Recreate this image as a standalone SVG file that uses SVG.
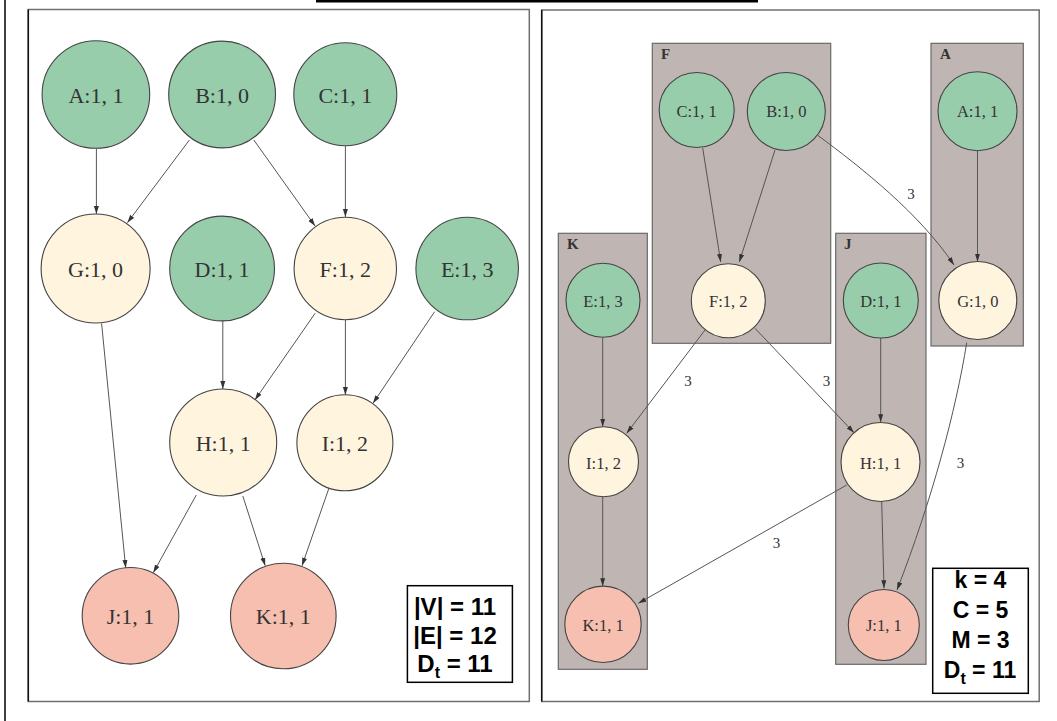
<svg xmlns="http://www.w3.org/2000/svg" width="1057" height="721" viewBox="0 0 1057 721">
<style>
.bg{fill:#ffffff}
.panel{fill:#ffffff;stroke:#707070;stroke-width:1.5}
.pedge{stroke:#111;stroke-width:1.5}
.cl{fill:#bfb5b2;stroke:#6a6a6a;stroke-width:1.2}
.cll{font-family:"Liberation Serif",serif;font-weight:bold;font-size:15px;fill:#333}
.g{fill:#98cdab;stroke:#444;stroke-width:1.1}
.y{fill:#fff5df;stroke:#444;stroke-width:1.1}
.p{fill:#f7bfb0;stroke:#444;stroke-width:1.1}
.t1{font-family:"Liberation Serif",serif;font-size:22px;fill:#333;text-anchor:middle;dominant-baseline:central}
.t2{font-family:"Liberation Serif",serif;font-size:16.5px;fill:#333;text-anchor:middle;dominant-baseline:central}
.e{stroke:#555;stroke-width:1;fill:none;marker-end:url(#ah)}
.el{font-family:"Liberation Serif",serif;font-size:15px;fill:#333;text-anchor:middle;dominant-baseline:central}
.lg{fill:#fff;stroke:#000;stroke-width:1.5}
.lt{font-family:"Liberation Sans",Arial,sans-serif;font-weight:bold;fill:#000;text-anchor:middle}
</style>
<defs>
<marker id="ah" markerUnits="userSpaceOnUse" markerWidth="9" markerHeight="6" refX="8" refY="3" orient="auto">
<path d="M0,0.5 L8,3 L0,5.5 z" fill="#333"/>
</marker>
</defs>
<rect class="bg" x="0" y="0" width="1057" height="721"/>
<rect x="316" y="0" width="442" height="2.5" fill="#000"/>
<line x1="5" y1="0" x2="5" y2="721" stroke="#000" stroke-width="1.5"/>

<!-- panels -->
<rect class="panel" x="28.3" y="9.5" width="501" height="692"/>
<line class="pedge" x1="28.3" y1="9.5" x2="28.3" y2="701.5"/>
<rect class="panel" x="541.7" y="10" width="497.5" height="691.5"/>
<line class="pedge" x1="541.7" y1="10" x2="541.7" y2="701.5"/>

<!-- clusters (right panel) -->
<g id="cluster-F"><rect class="cl" x="652.3" y="43.3" width="178.4" height="300"/><text class="cll" x="661" y="59">F</text></g>
<g id="cluster-A"><rect class="cl" x="931" y="43.3" width="92.3" height="302.7"/><text class="cll" x="940" y="59">A</text></g>
<g id="cluster-K"><rect class="cl" x="558.3" y="233.3" width="89" height="436"/><text class="cll" x="567" y="248.5">K</text></g>
<g id="cluster-J"><rect class="cl" x="835.7" y="233.3" width="90.3" height="431"/><text class="cll" x="844" y="248.5">J</text></g>

<!-- connectors -->
<g id="connectors">
<!-- left -->
<line class="e" x1="96.4" y1="148.3" x2="96.4" y2="214"/>
<line class="e" x1="189.4" y1="140" x2="127.4" y2="222.7"/>
<line class="e" x1="253.8" y1="140" x2="315.1" y2="226"/>
<line class="e" x1="345.4" y1="146" x2="345.4" y2="217"/>
<line class="e" x1="101.6" y1="323.5" x2="125.7" y2="568"/>
<line class="e" x1="222.8" y1="321" x2="222.8" y2="389"/>
<line class="e" x1="315.1" y1="313.3" x2="254.9" y2="400"/>
<line class="e" x1="345.4" y1="320" x2="345.4" y2="395"/>
<line class="e" x1="434.6" y1="311.7" x2="373" y2="403.3"/>
<line class="e" x1="196.3" y1="495" x2="153.3" y2="572.7"/>
<line class="e" x1="242.8" y1="496" x2="265.2" y2="565.7"/>
<line class="e" x1="328.9" y1="488.3" x2="302" y2="565.7"/>
<!-- right -->
<line class="e" x1="702.7" y1="148" x2="720.7" y2="262"/>
<line class="e" x1="775" y1="150" x2="739.3" y2="262"/>
<path class="e" d="M817.3,135 C862,168 920,214 954,265"/>
<line class="e" x1="977.5" y1="150.5" x2="977.5" y2="261.7"/>
<line class="e" x1="602.7" y1="337.3" x2="602.7" y2="426.7"/>
<line class="e" x1="705" y1="330" x2="626.7" y2="433.3"/>
<line class="e" x1="755" y1="328.3" x2="854" y2="432.7"/>
<line class="e" x1="880.7" y1="338" x2="880.7" y2="422.3"/>
<path class="e" d="M966.7,342.7 C956,410 932,500 897,590"/>
<line class="e" x1="846.7" y1="485" x2="638.3" y2="603.3"/>
<line class="e" x1="602.7" y1="497" x2="602.7" y2="586.3"/>
<line class="e" x1="881.7" y1="501.7" x2="884" y2="588.3"/>
<text class="el" x="911" y="194">3</text>
<text class="el" x="688" y="381">3</text>
<text class="el" x="826.5" y="381">3</text>
<text class="el" x="960.5" y="463">3</text>
<text class="el" x="776.5" y="542.5">3</text>
</g>

<!-- left nodes -->
<g id="L-A"><circle class="g" cx="95.9" cy="94.5" r="53.8"/><text class="t1" x="95.9" y="95">A:1, 1</text></g>
<g id="L-B"><circle class="g" cx="222.1" cy="94.5" r="53.4"/><text class="t1" x="222.1" y="95">B:1, 0</text></g>
<g id="L-C"><circle class="g" cx="345.3" cy="94.3" r="51.5"/><text class="t1" x="345.3" y="95">C:1, 1</text></g>
<g id="L-G"><circle class="y" cx="95.6" cy="268.5" r="54.5"/><text class="t1" x="95.6" y="269">G:1, 0</text></g>
<g id="L-D"><circle class="g" cx="222.1" cy="268.5" r="52.4"/><text class="t1" x="222.1" y="269">D:1, 1</text></g>
<g id="L-F"><circle class="y" cx="345.3" cy="268.5" r="51.2"/><text class="t1" x="345.3" y="269">F:1, 2</text></g>
<g id="L-E"><circle class="g" cx="467.2" cy="268.5" r="51.3"/><text class="t1" x="467.2" y="269">E:1, 3</text></g>
<g id="L-H"><circle class="y" cx="223.2" cy="442.5" r="53.5"/><text class="t1" x="223.2" y="443">H:1, 1</text></g>
<g id="L-I"><circle class="y" cx="344.9" cy="442.8" r="48"/><text class="t1" x="344.9" y="443">I:1, 2</text></g>
<g id="L-J"><circle class="p" cx="130.5" cy="615.8" r="48.3"/><text class="t1" x="130.5" y="616">J:1, 1</text></g>
<g id="L-K"><circle class="p" cx="283.3" cy="616" r="52.8"/><text class="t1" x="283.3" y="616">K:1, 1</text></g>

<!-- right nodes -->
<g id="R-C"><circle class="g" cx="696.7" cy="110" r="37.5"/><text class="t2" x="696.7" y="111">C:1, 1</text></g>
<g id="R-B"><circle class="g" cx="786.3" cy="111.5" r="39"/><text class="t2" x="786.3" y="111">B:1, 0</text></g>
<g id="R-A"><circle class="g" cx="977.5" cy="111.3" r="39.5"/><text class="t2" x="977.5" y="111">A:1, 1</text></g>
<g id="R-E"><circle class="g" cx="603" cy="300.3" r="37"/><text class="t2" x="603" y="301">E:1, 3</text></g>
<g id="R-F"><circle class="y" cx="728.3" cy="300.8" r="37"/><text class="t2" x="728.3" y="301">F:1, 2</text></g>
<g id="R-D"><circle class="g" cx="880.8" cy="300.5" r="37.5"/><text class="t2" x="880.8" y="301">D:1, 1</text></g>
<g id="R-G"><circle class="y" cx="977.8" cy="300.5" r="39"/><text class="t2" x="977.8" y="301">G:1, 0</text></g>
<g id="R-I"><circle class="y" cx="603.5" cy="461.7" r="35"/><text class="t2" x="603.5" y="463">I:1, 2</text></g>
<g id="R-H"><circle class="y" cx="880.5" cy="462" r="39.5"/><text class="t2" x="880.5" y="463">H:1, 1</text></g>
<g id="R-K"><circle class="p" cx="603" cy="624.3" r="38.2"/><text class="t2" x="603" y="625">K:1, 1</text></g>
<g id="R-J"><circle class="p" cx="883.8" cy="625" r="35.5"/><text class="t2" x="883.8" y="625">J:1, 1</text></g>

<!-- legends -->
<g id="legend-left">
<rect class="lg" x="407.4" y="585.7" width="105" height="96.6"/>
<text class="lt" x="455" y="615" font-size="24">|V| = 11</text>
<text class="lt" x="455" y="644" font-size="24">|E| = 12</text>
<text class="lt" x="455" y="672" font-size="24">D<tspan font-size="16" dy="6">t</tspan><tspan dy="-6"> = 11</tspan></text>
</g>
<g id="legend-right">
<rect class="lg" x="932.7" y="568.3" width="95.6" height="125"/>
<text class="lt" x="980.5" y="588.3" font-size="23">k = 4</text>
<text class="lt" x="980.5" y="618.3" font-size="23">C = 5</text>
<text class="lt" x="980.5" y="648.3" font-size="23">M = 3</text>
<text class="lt" x="980" y="678.3" font-size="23">D<tspan font-size="16" dy="6">t</tspan><tspan dy="-6"> = 11</tspan></text>
</g>
</svg>
